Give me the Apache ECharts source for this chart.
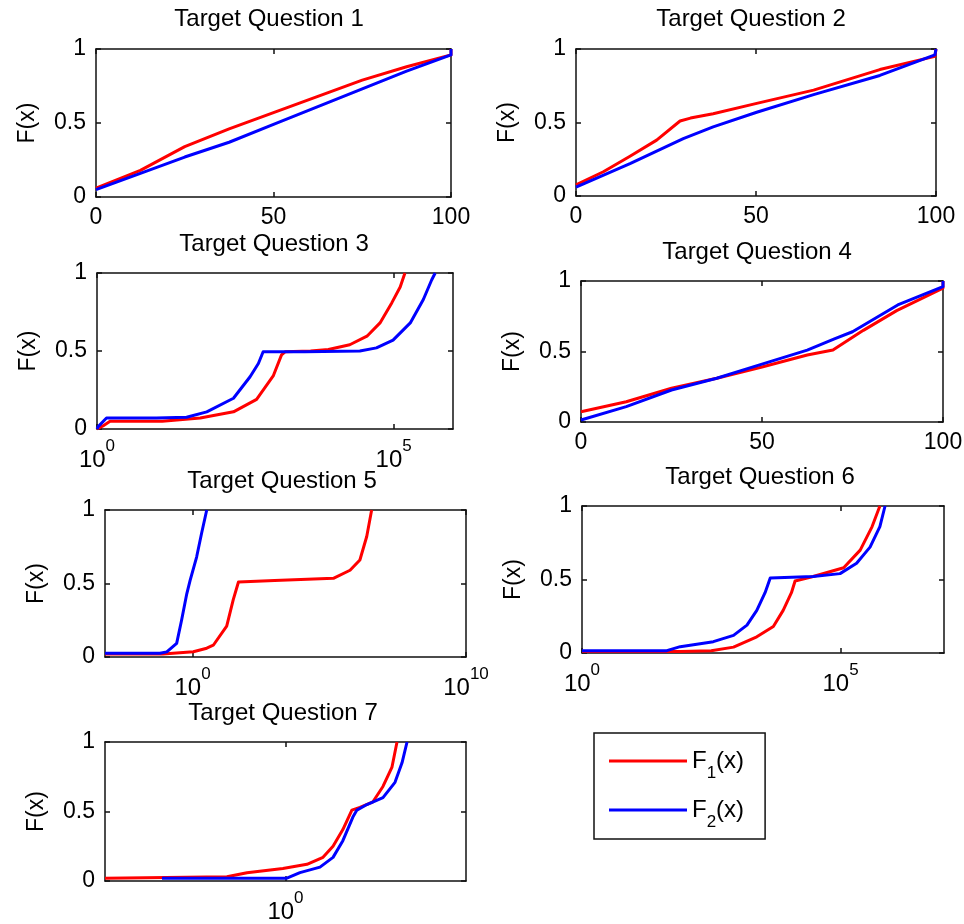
<!DOCTYPE html>
<html>
<head>
<meta charset="utf-8">
<title>Target Questions - F(x)</title>
<script src="https://cdn.jsdelivr.net/npm/echarts@6/dist/echarts.min.js"></script>
<style>
  html, body { margin: 0; padding: 0; background: #fff; }
  #main { width: 964px; height: 924px; }
</style>
</head>
<body>
<div id="main"></div>
<script>
// values
// log panels (3, 5, 6, 7) keep x as log10(x), the axis shows 10^n

// Target Question 1
var q1X1 = [0, 12.5, 25, 37.5, 50, 62.5, 75, 87.5, 100, 100];
var q1F1 = [0.06, 0.18, 0.34, 0.46, 0.57, 0.68, 0.79, 0.88, 0.96, 1];
var q1X2 = [0, 12.5, 25, 37.5, 50, 62.5, 75, 87.5, 100, 100];
var q1F2 = [0.05, 0.16, 0.27, 0.37, 0.49, 0.61, 0.73, 0.85, 0.96, 1];

// Target Question 2
var q2X1 = [0, 7.6, 15, 22.4, 28.9, 31.8, 38.1, 50.2, 66, 84.4, 99.7, 100];
var q2F1 = [0.075, 0.165, 0.27, 0.38, 0.51, 0.53, 0.56, 0.63, 0.72, 0.86, 0.95, 1];
var q2X2 = [0, 15, 29.8, 38.1, 50.2, 66, 84.4, 99.7, 100];
var q2F2 = [0.06, 0.22, 0.39, 0.47, 0.57, 0.69, 0.82, 0.96, 1];

// Target Question 3 (log10 x)
var q3X1 = [0, 0.1, 0.22, 0.6, 1.1, 1.74, 2.3, 2.69, 2.97, 3.11, 3.17, 3.6, 3.9, 4.26, 4.55, 4.77, 4.97, 5.11, 5.19];
var q3F1 = [0, 0.02, 0.05, 0.05, 0.05, 0.07, 0.11, 0.19, 0.34, 0.475, 0.495, 0.5, 0.51, 0.54, 0.595, 0.68, 0.81, 0.91, 1];
var q3X2 = [0, 0.02, 0.16, 1.0, 1.51, 1.85, 2.3, 2.58, 2.72, 2.8, 3.5, 4.43, 4.71, 4.99, 5.28, 5.5, 5.64, 5.7];
var q3F2 = [0, 0.015, 0.07, 0.07, 0.075, 0.11, 0.197, 0.335, 0.42, 0.495, 0.495, 0.5, 0.52, 0.57, 0.68, 0.83, 0.955, 1];

// Target Question 4
var q4X1 = [0, 12.5, 25, 37.5, 50, 62.5, 69.6, 78, 87.2, 100, 100];
var q4F1 = [0.073, 0.144, 0.239, 0.31, 0.39, 0.475, 0.51, 0.65, 0.79, 0.95, 1];
var q4X2 = [0, 12.5, 25, 37.5, 50, 62.5, 70, 75, 87.5, 100, 100];
var q4F2 = [0.014, 0.109, 0.227, 0.31, 0.41, 0.51, 0.59, 0.64, 0.83, 0.96, 1];

// Target Question 5 (log10 x)
var q5X1 = [-3.2, -1.08, 0.03, 0.52, 0.76, 1.25, 1.49, 1.68, 3.0, 5.15, 5.76, 6.12, 6.37, 6.55];
var q5F1 = [0.02, 0.02, 0.036, 0.06, 0.08, 0.21, 0.39, 0.51, 0.52, 0.535, 0.59, 0.66, 0.82, 1];
var q5X2 = [-3.2, -1.19, -0.94, -0.58, -0.4, -0.21, -0.09, 0.15, 0.33, 0.52];
var q5F2 = [0.025, 0.025, 0.035, 0.093, 0.25, 0.43, 0.52, 0.68, 0.84, 1];

// Target Question 6 (log10 x)
var q6X1 = [0, 1.9, 2.5, 2.93, 3.38, 3.7, 3.89, 4.05, 4.12, 4.47, 5.06, 5.38, 5.61, 5.76];
var q6F1 = [0.01, 0.01, 0.015, 0.04, 0.11, 0.18, 0.29, 0.41, 0.49, 0.52, 0.58, 0.7, 0.86, 1];
var q6X2 = [0, 1.64, 1.9, 2.54, 2.93, 3.19, 3.38, 3.54, 3.64, 4.47, 4.99, 5.31, 5.57, 5.76, 5.86];
var q6F2 = [0.016, 0.016, 0.043, 0.077, 0.12, 0.19, 0.29, 0.41, 0.51, 0.52, 0.54, 0.61, 0.72, 0.86, 1];

// Target Question 7 (log10 x)
var q7X1 = [-9, -2.92, -1.92, -0.13, 1.07, 1.87, 2.37, 2.86, 3.31, 3.71, 4.36, 4.86, 5.31, 5.56];
var q7F1 = [0.02, 0.03, 0.06, 0.09, 0.12, 0.17, 0.25, 0.37, 0.51, 0.53, 0.57, 0.68, 0.82, 1];
var q7X2 = [-6.16, 0.07, 0.72, 1.72, 2.37, 2.86, 3.36, 3.56, 4.06, 4.86, 5.46, 5.81, 6.06];
var q7F2 = [0.02, 0.02, 0.06, 0.1, 0.17, 0.29, 0.46, 0.51, 0.55, 0.6, 0.71, 0.85, 1];

var linTicks = [0, 50, 100];
var seriesNames = ['F1(x)', 'F2(x)'];

var FONT = 'Liberation Sans, Arial, Helvetica, sans-serif';

var panels = [
  {title: 'Target Question 1', cx: 269, ty: 7,   grid: [96, 49, 355, 148],  log: false, xr: [0, 100], ticks: linTicks, d: [q1X1, q1F1, q1X2, q1F2]},
  {title: 'Target Question 2', cx: 751, ty: 7,   grid: [576, 49, 360, 147], log: false, xr: [0, 100], ticks: linTicks, d: [q2X1, q2F1, q2X2, q2F2]},
  {title: 'Target Question 3', cx: 274, ty: 232, grid: [97, 273, 356, 156], log: true,  xr: [0, 6],   ticks: [0, 5], d: [q3X1, q3F1, q3X2, q3F2]},
  {title: 'Target Question 4', cx: 757, ty: 240, grid: [581, 281, 362, 141], log: false, xr: [0, 100], ticks: linTicks, d: [q4X1, q4F1, q4X2, q4F2]},
  {title: 'Target Question 5', cx: 282, ty: 469, grid: [105, 510, 361, 147], log: true, xr: [-3.2, 10], ticks: [0, 10], d: [q5X1, q5F1, q5X2, q5F2]},
  {title: 'Target Question 6', cx: 760, ty: 465, grid: [582, 506, 362, 147], log: true, xr: [0, 7], ticks: [0, 5], d: [q6X1, q6F1, q6X2, q6F2]},
  {title: 'Target Question 7', cx: 283, ty: 701, grid: [105, 742, 361, 139], log: true, xr: [-9, 9], ticks: [0], d: [q7X1, q7F1, q7X2, q7F2]}
];

function zip(xs, ys) {
  return xs.map(function (x, i) { return [x, ys[i]]; });
}

var lineAxis = {show: true, onZero: false, lineStyle: {color: '#111', width: 1.5}};
var tickStyle = {color: '#111', width: 1.5};

var titles = [], grids = [], xAxes = [], yAxes = [], series = [];

panels.forEach(function (p, i) {
  titles.push({
    text: p.title, left: p.cx, top: p.ty, textAlign: 'center', padding: 0,
    textStyle: {fontSize: 24, fontWeight: 'normal', color: '#000', fontFamily: FONT, lineHeight: 24}
  });
  grids.push({
    left: p.grid[0], top: p.grid[1], width: p.grid[2], height: p.grid[3],
    containLabel: false, outerBoundsMode: 'none', show: false
  });
  var label = p.log ? {
    customValues: p.ticks, margin: 9, color: '#000', fontFamily: FONT,
    formatter: function (v) { return '{b|10}{s|' + v + '}'; },
    rich: {
      b: {fontSize: 24, lineHeight: 24, padding: [10, 0, 0, 0], verticalAlign: 'top', fontFamily: FONT, color: '#000'},
      s: {fontSize: 17, lineHeight: 18, verticalAlign: 'top', fontFamily: FONT, color: '#000'}
    }
  } : {
    customValues: p.ticks, margin: 9, color: '#000', fontSize: 23, fontFamily: FONT
  };
  // bottom (with labels) and top (ticks only)
  xAxes.push({
    gridIndex: i, type: 'value', position: 'bottom', min: p.xr[0], max: p.xr[1],
    axisLine: lineAxis, splitLine: {show: false},
    axisTick: {show: true, inside: true, length: 5, customValues: p.ticks, lineStyle: tickStyle},
    axisLabel: label
  });
  xAxes.push({
    gridIndex: i, type: 'value', position: 'top', min: p.xr[0], max: p.xr[1],
    axisLine: lineAxis, splitLine: {show: false},
    axisTick: {show: true, inside: true, length: 5, customValues: p.ticks, lineStyle: tickStyle},
    axisLabel: {show: false}
  });
  yAxes.push({
    gridIndex: i, type: 'value', position: 'left', min: 0, max: 1, interval: 0.5,
    name: 'F(x)', nameLocation: 'middle', nameGap: 57,
    nameTextStyle: {fontSize: 23, color: '#000', fontFamily: FONT},
    axisLine: lineAxis, splitLine: {show: false},
    axisTick: {show: true, inside: true, length: 5, lineStyle: tickStyle},
    axisLabel: {margin: 10, color: '#000', fontSize: 23, fontFamily: FONT}
  });
  yAxes.push({
    gridIndex: i, type: 'value', position: 'right', min: 0, max: 1, interval: 0.5,
    axisLine: lineAxis, splitLine: {show: false},
    axisTick: {show: true, inside: true, length: 5, lineStyle: tickStyle},
    axisLabel: {show: false}
  });
  series.push({
    type: 'line', name: seriesNames[0], xAxisIndex: 2 * i, yAxisIndex: 2 * i,
    data: zip(p.d[0], p.d[1]), symbol: 'none', clip: false, animation: false,
    lineStyle: {color: '#ff0000', width: 3, join: 'round'}, itemStyle: {color: '#ff0000'}
  });
  series.push({
    type: 'line', name: seriesNames[1], xAxisIndex: 2 * i, yAxisIndex: 2 * i,
    data: zip(p.d[2], p.d[3]), symbol: 'none', clip: false, animation: false,
    lineStyle: {color: '#0000ff', width: 3, join: 'round'}, itemStyle: {color: '#0000ff'}
  });
});

var chart = echarts.init(document.getElementById('main'), null, {renderer: 'canvas'});
chart.setOption({
  backgroundColor: '#fff',
  animation: false,
  title: titles,
  grid: grids,
  xAxis: xAxes,
  yAxis: yAxes,
  legend: {
    data: seriesNames, orient: 'vertical', left: 594, top: 733,
    padding: [16, 21, 8, 15], itemGap: 16, itemWidth: 78, itemHeight: 3,
    icon: 'rect',
    borderColor: '#111', borderWidth: 1.5, backgroundColor: '#fff',
    selectedMode: false, inactiveColor: '#000',
    formatter: function (name) {
      return '{a|F}{s|' + (name === 'F1(x)' ? '1' : '2') + '}{a|(x)}';
    },
    textStyle: {
      color: '#000', fontFamily: FONT,
      rich: {
        a: {fontSize: 24, lineHeight: 24, verticalAlign: 'top', fontFamily: FONT, color: '#000'},
        s: {fontSize: 17, lineHeight: 16, padding: [16, 0, 0, 0], verticalAlign: 'top', fontFamily: FONT, color: '#000'}
      }
    }
  },
  series: series
});
</script>
</body>
</html>
